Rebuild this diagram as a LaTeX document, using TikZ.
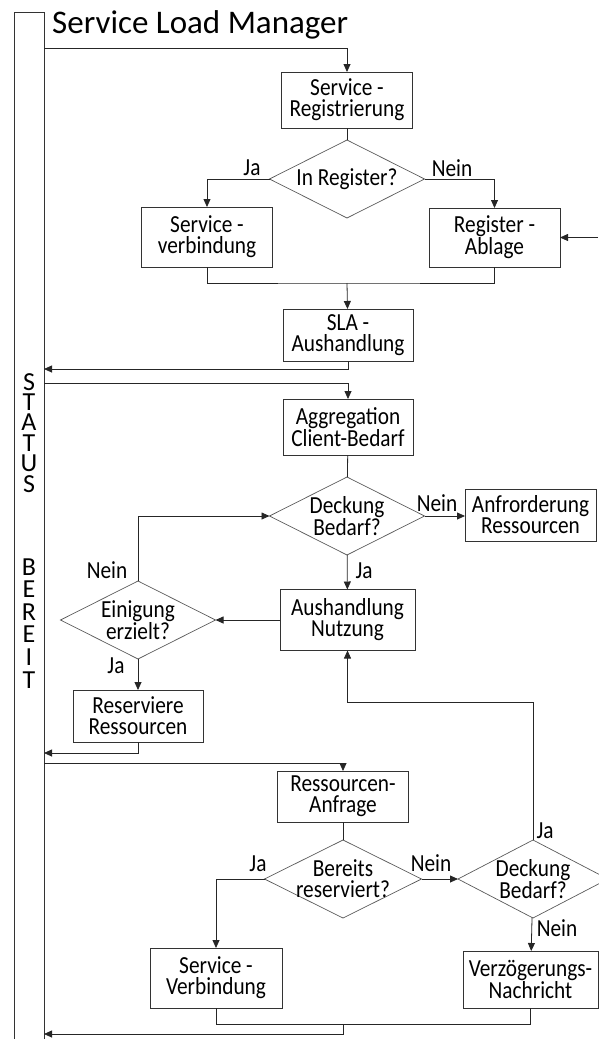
\documentclass[tikz,border=0pt]{standalone}
\usepackage{fontspec}
\setmainfont{Carlito}
\newfontfamily\boxfont{Carlito}[FakeStretch=0.87]
\usetikzlibrary{shapes.geometric,arrows.meta}
\tikzset{>={Triangle[length=8pt,width=7pt]}}
\tikzset{
  stepbox/.style={draw=black!80, line width=0.9pt, minimum width=131pt,
    minimum height=56pt, inner sep=1pt, outer sep=0pt, align=center,
    font=\boxfont\fontsize{24.5}{21}\selectfont},
  decide/.style={diamond, draw=black!65, line width=0.7pt, aspect=2,
    inner sep=-10pt, outer sep=0pt, minimum width=155pt, minimum height=78pt,
    align=center, font=\boxfont\fontsize{24.5}{21}\selectfont},
  lbl/.style={inner sep=0pt, font=\boxfont\fontsize{24.5}{24}\selectfont},
  bartext/.style={inner sep=0pt, anchor=base, font=\fontsize{26}{26}\selectfont},
  flow/.style={line width=0.8pt, draw=black!85},
}

\begin{document}
\begin{tikzpicture}[x=1pt, y=-1pt]
    \useasboundingbox (0,0) rectangle (598,1039);
    % status bar and title
    \draw[line width=0.9pt, black!80] (14,1045) -- (14,12) -- (44,12) -- (44,1045);
    \node[anchor=base west, inner sep=0pt, font=\fontsize{33}{36}\selectfont] (title) at (52,33) {Service Load Manager};
    \foreach \ch [count=\i] in {S,T,A,T,U,S}
        \node[bartext] (st\i) at (29,{390+20.4*(\i-1)}) {\ch};
    \foreach \ch [count=\i] in {B,E,R,E,I,T}
        \node[bartext] (br\i) at (29,{575+22.6*(\i-1)}) {\ch};

    % Registrierung
    \node[stepbox] (reg) at (347,100) {Service -\\Registrierung};
    \node[decide] (inreg) at (347,179) {In Register?};
    \node[stepbox, minimum height=60pt] (sverb) at (207,237) {Service -\\verbindung};
    \node[stepbox, minimum height=59pt] (ablage) at (494.5,237.5) {Register -\\Ablage};
    \node[stepbox, minimum width=130pt, minimum height=52pt] (sla) at (348,335) {SLA -\\Aushandlung};
    \node[lbl] (ja1) at (252,168) {Ja};
    \node[lbl] (nein1) at (452,168) {Nein};

    % Bedarf
    \node[stepbox, minimum width=130pt] (aggr) at (348,427) {Aggregation\\Client-Bedarf};
    \node[decide] (deck1) at (347,516) {Deckung\\Bedarf?};
    \node[stepbox, minimum height=52pt] (anf) at (530.5,515) {Anfrorderung\\Ressourcen};
    \node[stepbox, minimum width=135pt, minimum height=61pt] (nutz) at (347.5,620) {Aushandlung\\Nutzung};
    \node[decide] (einig) at (138,620) {Einigung\\erzielt?};
    \node[stepbox, minimum width=130pt, minimum height=52pt] (reserv) at (138,716) {Reserviere\\Ressourcen};
    \node[lbl] (nein2) at (437,503) {Nein};
    \node[lbl] (ja2) at (364,571) {Ja};
    \node[lbl] (nein3) at (107,570) {Nein};
    \node[lbl] (ja3) at (116,666) {Ja};

    % Anfrage
    \node[stepbox, minimum height=51pt] (anfr) at (343,796.5) {Ressourcen-\\Anfrage};
    \node[decide, minimum width=157pt] (bereits) at (343,879) {Bereits\\reserviert?};
    \node[decide, minimum width=150pt] (deck2) at (533,879) {Deckung\\Bedarf?};
    \node[stepbox, minimum width=132pt, minimum height=60pt] (sverb2) at (216,978) {Service -\\Verbindung};
    \node[stepbox, minimum width=135pt, minimum height=57pt] (verz) at (530.5,979.5) {Verzögerungs-\\Nachricht};
    \node[lbl] (ja4) at (258,864) {Ja};
    \node[lbl] (nein4) at (431,863) {Nein};
    \node[lbl] (ja5) at (545,831) {Ja};
    \node[lbl] (nein5) at (557,928) {Nein};

    % free ends on the bar
    \coordinate (b1) at (44,48);
    \coordinate (b2) at (44,369);
    \coordinate (b3) at (44,383);
    \coordinate (b4) at (44,753);
    \coordinate (b5) at (44,763);
    \coordinate (b6) at (44,1034);
    \coordinate (rin) at (598,237.5);
    \coordinate (m1) at (347,283);
    \coordinate (m2) at (343,1024);
    \coordinate (k1) at (347.5,702);

    % connectors
    \draw[flow, ->] (b1) -| (reg);
    \draw[flow] (reg) -- (inreg);
    \draw[flow, ->] (inreg.west) -| (sverb);
    \draw[flow, ->] (inreg.east) -| (ablage);
    \draw[flow, ->] (rin) -- (ablage);
    \draw[flow] (sverb) |- (m1) -| (ablage);
    \draw[flow, ->] (m1) -- (sla);
    \draw[flow, ->] (sla) |- (b2);

    \draw[flow, ->] (b3) -| (aggr);
    \draw[flow] (aggr) -- (deck1);
    \draw[flow, ->] (deck1.east) -- (deck1.east -| anf.west);
    \draw[flow, ->] (deck1) -- (nutz);
    \draw[flow, ->] (nutz) -- (einig);
    \draw[flow, ->] (einig.north) |- (deck1.west);
    \draw[flow, ->] (einig) -- (reserv);
    \draw[flow, ->] (reserv) |- (b4);

    \draw[flow, ->] (b5) -| (anfr);
    \draw[flow] (anfr) -- (bereits);
    \draw[flow, ->] (bereits.west) -| (sverb2);
    \draw[flow, ->] (bereits.east) -- (deck2.west);
    \draw[flow, ->] (deck2.north) |- (k1) -- (nutz);
    \draw[flow, ->] (deck2) -- (verz);
    \draw[flow] (sverb2) |- (m2) -| (verz);
    \draw[flow, ->] (m2) |- (b6);
\end{tikzpicture}
\end{document}
